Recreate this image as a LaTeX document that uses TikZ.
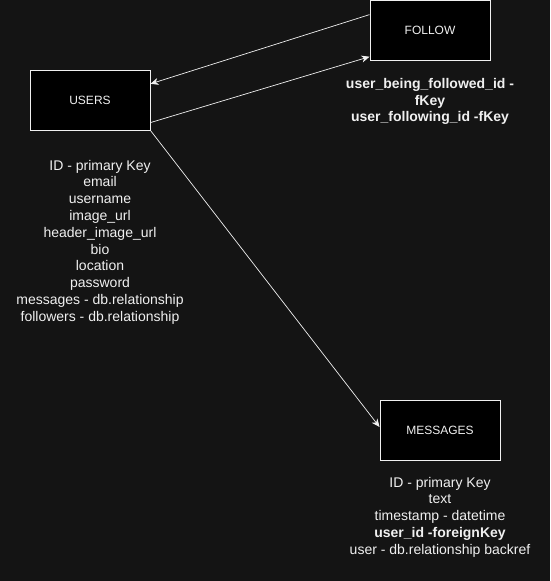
\documentclass[tikz,border=0pt]{standalone}
\usepackage{fontspec}
\setmainfont{Liberation Sans}
\usetikzlibrary{calc,arrows.meta}
\definecolor{bgc}{RGB}{20,20,20}
\definecolor{fg}{RGB}{240,240,240}
\begin{document}
\begin{tikzpicture}[x=1pt,y=-1pt,
  entity/.style={draw=fg,fill=black,line width=1pt,minimum width=120pt,minimum height=60pt,inner sep=0pt,text=fg,font=\fontsize{12pt}{14.4pt}\selectfont},
  attrs/.style={align=center,inner sep=0pt,text=fg,font=\fontsize{14pt}{16.8pt}\selectfont},
  link/.style={draw=fg,line width=0.7pt,-{Stealth[length=8pt,width=7pt,inset=2.5pt]}}]
\fill[bgc] (0,0) rectangle (550,581);
\useasboundingbox (0,0) rectangle (550,581);
\node[entity] (users) at (90,100) {USERS};
\node[entity] (follow) at (430,30.5) {FOLLOW};
\node[entity] (messages) at (440,430) {MESSAGES};
\node[attrs] (usersattr) at (100,242) {ID - primary Key\\email\\username\\image\_url\\header\_image\_url\\bio\\location\\password\\messages - db.relationship\\followers - db.relationship};
\node[attrs,font=\bfseries\fontsize{14pt}{16.8pt}\selectfont] (followattr) at (430,101.5) {user\_being\_followed\_id -\\fKey\\user\_following\_id -fKey};
\node[attrs] (msgattr) at (440,517) {ID - primary Key\\text\\timestamp - datetime\\\textbf{user\_id -foreignKey}\\user - db.relationship backref};
\coordinate (f1) at ($(follow.north west)!0.24!(follow.south west)$);
\coordinate (u1) at ($(users.north east)!0.235!(users.south east)$);
\coordinate (u2) at ($(users.north east)!0.87!(users.south east)$);
\coordinate (f2) at ($(follow.north west)!0.93!(follow.south west)$);
\coordinate (m1) at ($(messages.north west)!0.45!(messages.south west)$);
\draw[link] (f1) -- (u1);
\draw[link] (u2) -- (f2);
\draw[link] (users.south east) -- (m1);
\end{tikzpicture}
\end{document}
